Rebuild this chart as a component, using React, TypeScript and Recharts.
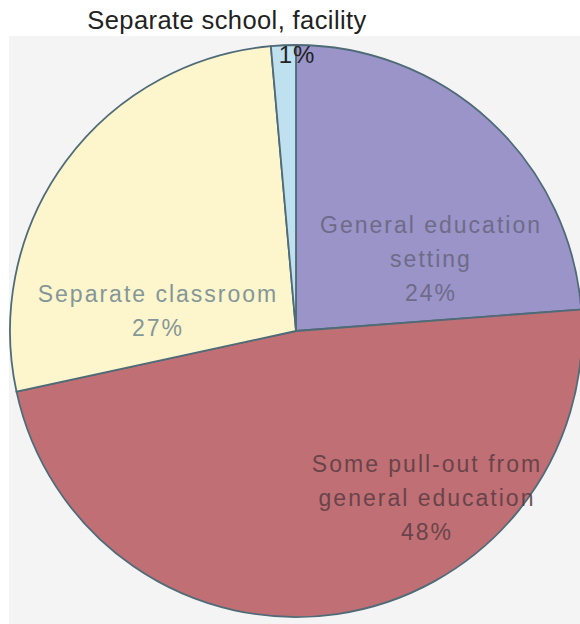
import React from "react";
import { PieChart, Pie, Cell } from "recharts";

const categories = [
  "General education setting",
  "Some pull-out from general education",
  "Separate classroom",
  "Separate school, facility",
];
// slice sizes as drawn in the picture (labels round them)
const shares = [23.8, 47.8, 27.0, 1.4];
const labelLines = [
  ["General education", "setting", "24%"],
  ["Some pull-out from", "general education", "48%"],
  ["Separate classroom", "27%"],
  ["Separate school, facility", "1%"],
];

const colors = ["#9a94c9", "#c07074", "#fdf5cc", "#bfe0ef"];
const textColors = ["#67657c", "#5a3c44", "#6f8790", "#222222"];
// label anchor offsets relative to the pie center (first baseline)
const labelOffsets = [
  { dx: 135, dy: -98 },
  { dx: 131, dy: 141 },
  { dx: -138, dy: -29 },
  { dx: -69, dy: -302 },
];

const data = categories.map((name, i) => ({ name, value: shares[i] }));

const FONT = "'Liberation Sans', Arial, Helvetica, sans-serif";

const renderLabel = (props: any) => {
  const { cx, cy, index } = props;
  const lines = labelLines[index];
  const off = labelOffsets[index];
  const x = cx + off.dx;
  const y = cy + off.dy;
  if (index === 3) {
    return (
      <g>
        <text x={x} y={y} textAnchor="middle" fontFamily={FONT} fontSize={25.5} letterSpacing={0.4} fill={textColors[index]}>
          {lines[0]}
        </text>
        <text x={cx + 1} y={y + 34} textAnchor="middle" fontFamily={FONT} fontSize={24} letterSpacing={1} fill={textColors[index]}>
          {lines[1]}
        </text>
      </g>
    );
  }
  return (
    <text x={x} y={y} textAnchor="middle" fontFamily={FONT} fontSize={23} letterSpacing={2} fill={textColors[index]} opacity={0.85}>
      {lines.map((l, k) => (
        <tspan key={k} x={x} dy={k === 0 ? 0 : 34}>
          {l}
        </tspan>
      ))}
    </text>
  );
};

export default function App() {
  return (
    <div style={{ position: "absolute", left: 0, top: 0, width: 580, height: 624, background: "#ffffff" }}>
      <div style={{ position: "absolute", left: 9, top: 36, width: 571, height: 588, background: "#f4f4f4" }} />
      <div style={{ position: "absolute", left: 0, top: 0 }}>
        <PieChart width={580} height={624} margin={{ top: 0, right: 0, bottom: 0, left: 0 }}>
          <Pie
            data={data}
            dataKey="value"
            nameKey="name"
            cx={296}
            cy={331}
            outerRadius={286}
            startAngle={90}
            endAngle={-270}
            stroke="#4f6b78"
            strokeWidth={1.8}
            label={renderLabel}
            labelLine={false}
            isAnimationActive={false}
          >
            {data.map((d, i) => (
              <Cell key={d.name} fill={colors[i]} />
            ))}
          </Pie>
        </PieChart>
      </div>
    </div>
  );
}
